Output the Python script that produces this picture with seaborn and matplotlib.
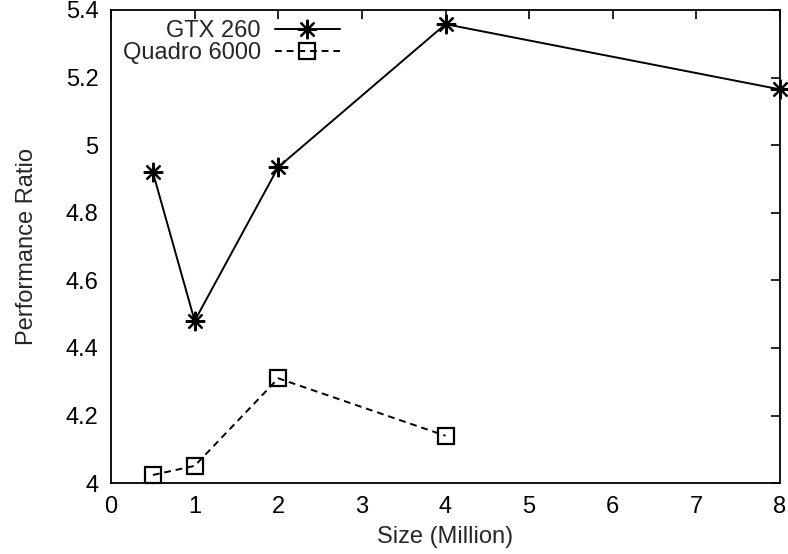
import matplotlib
matplotlib.use("Agg")
import matplotlib.pyplot as plt
import seaborn as sns
import pandas as pd

sizes_gtx = [0.5, 1, 2, 4, 8]
ratio_gtx = [4.92, 4.48, 4.935, 5.358, 5.165]
sizes_quadro = [0.5, 1, 2, 4]
ratio_quadro = [4.024, 4.051, 4.31, 4.14]
x_ticks = [0, 1, 2, 3, 4, 5, 6, 7, 8]
y_ticks = [4.0, 4.2, 4.4, 4.6, 4.8, 5.0, 5.2, 5.4]
y_tick_labels = ["4", "4.2", "4.4", "4.6", "4.8", "5", "5.2", "5.4"]

df_gtx = pd.DataFrame({"size": sizes_gtx, "ratio": ratio_gtx})
df_quadro = pd.DataFrame({"size": sizes_quadro, "ratio": ratio_quadro})

sns.set_style("white")
plt.rcParams["font.family"] = ["Liberation Sans", "DejaVu Sans"]
FS = 17

fig = plt.figure(figsize=(7.88, 5.54), dpi=100)
ax = fig.add_axes([0.1409, 0.128, 0.849, 0.854])

sns.lineplot(data=df_gtx, x="size", y="ratio", ax=ax, color="black",
             linewidth=1.4, marker=(8, 2, 0), markersize=14,
             markeredgewidth=1.6, markeredgecolor="black",
             label="GTX 260", clip_on=False, zorder=5)
sns.lineplot(data=df_quadro, x="size", y="ratio", ax=ax, color="black",
             linewidth=1.4, linestyle=(0, (3.5, 2.5)), marker="s", markersize=12,
             markerfacecolor="none", markeredgewidth=1.6,
             markeredgecolor="black", label="Quadro 6000", clip_on=False,
             zorder=5)

ax.set_xlim(0, 8)
ax.set_ylim(4.0, 5.4)
ax.set_xticks(x_ticks)
ax.set_xticklabels([str(t) for t in x_ticks])
ax.set_yticks(y_ticks)
ax.set_yticklabels(y_tick_labels)
ax.tick_params(direction="in", length=6.5, width=1.2, labelsize=FS,
               top=True, right=True, colors="black", pad=9)
for s in ax.spines.values():
    s.set_visible(True)
    s.set_color("black")
    s.set_linewidth(1.3)

ax.set_xlabel("Size (Million)", fontsize=FS, labelpad=6)
ax.set_ylabel("Performance Ratio", fontsize=FS, labelpad=20)

leg = ax.legend(loc="upper right", bbox_to_anchor=(0.342, 0.979),
                frameon=False, markerfirst=False, fontsize=FS,
                handlelength=2.75, handletextpad=0.6, borderaxespad=0,
                borderpad=0, labelspacing=0.0)
# right-align the label text so the line samples line up
for col in leg._legend_handle_box.get_children():
    col.align = "right"

fig.savefig("out.png", dpi=100)
